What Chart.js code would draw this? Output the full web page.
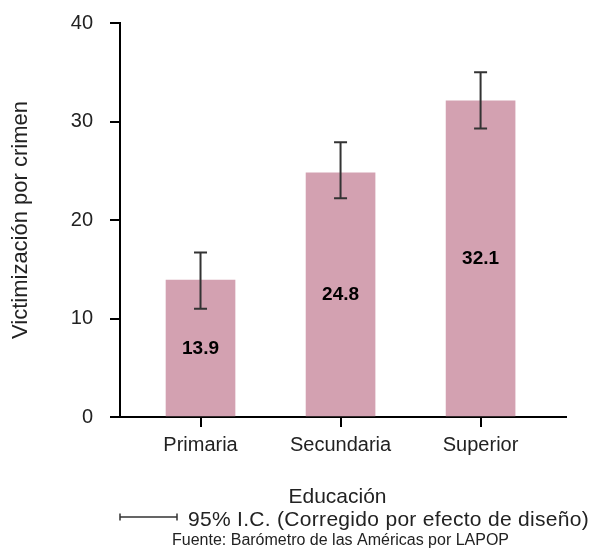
<!DOCTYPE html>
<html>
<head>
<meta charset="utf-8">
<title>Victimización por crimen según educación</title>
<script src="https://cdn.jsdelivr.net/npm/chart.js"></script>
<style>
  body { margin: 0; background: #fff; }
</style>
</head>
<body>
<canvas id="barChart" width="594" height="550"></canvas>
<script>
const categories = ['Primaria', 'Secundaria', 'Superior'];
const values = [13.9, 24.8, 32.1];
const ciLow = [11.0, 22.2, 29.3];
const ciHigh = [16.7, 27.9, 35.0];
const yTicks = [0, 10, 20, 30, 40];

const FONT = '"Liberation Sans", Arial, sans-serif';
const TEXT = '#222';

// error bars, value labels and the notes under the axis
const extras = {
    id: 'extras',
    afterDatasetsDraw(chart) {
        const ctx = chart.ctx;
        const xs = chart.scales.x, ys = chart.scales.y;
        ctx.save();
        ctx.strokeStyle = '#333';
        ctx.lineWidth = 2;
        values.forEach((v, i) => {
            const x = xs.getPixelForValue(i + 1);
            const yl = ys.getPixelForValue(ciLow[i]);
            const yh = ys.getPixelForValue(ciHigh[i]);
            ctx.beginPath();
            ctx.moveTo(x, yl); ctx.lineTo(x, yh);
            ctx.moveTo(x - 6.5, yl); ctx.lineTo(x + 6.5, yl);
            ctx.moveTo(x - 6.5, yh); ctx.lineTo(x + 6.5, yh);
            ctx.stroke();

            ctx.fillStyle = '#000';
            ctx.font = 'bold 19px ' + FONT;
            ctx.textAlign = 'center';
            ctx.textBaseline = 'middle';
            ctx.fillText(v.toFixed(1), x, ys.getPixelForValue(v / 2));
        });

        ctx.fillStyle = TEXT;
        ctx.textBaseline = 'alphabetic';
        ctx.font = '21px ' + FONT;
        ctx.textAlign = 'center';
        ctx.fillText('Educación', 337.5, 503);

        ctx.lineWidth = 1.5;
        ctx.beginPath();
        ctx.moveTo(120, 517); ctx.lineTo(177, 517);
        ctx.moveTo(120, 513.5); ctx.lineTo(120, 520.5);
        ctx.moveTo(177, 513.5); ctx.lineTo(177, 520.5);
        ctx.stroke();

        ctx.textAlign = 'left';
        ctx.font = '21px ' + FONT;
        ctx.letterSpacing = '0.3px';
        ctx.fillText('95% I.C. (Corregido por efecto de diseño)', 188, 526);
        ctx.letterSpacing = '0px';
        ctx.font = '16px ' + FONT;
        ctx.fillText('Fuente: Barómetro de las Américas por LAPOP', 172, 545);
        ctx.restore();
    }
};

const ctx = document.getElementById('barChart').getContext('2d');
new Chart(ctx, {
    type: 'bar',
    data: {
        datasets: [{
            data: categories.map((c, i) => ({ x: i + 1, y: values[i] })),
            backgroundColor: '#d3a1b1',
            barThickness: 69
        }]
    },
    options: {
        responsive: false,
        animation: false,
        layout: { padding: { top: 23, right: 28, left: 0, bottom: 0 } },
        plugins: {
            legend: { display: false },
            tooltip: { enabled: false }
        },
        scales: {
            x: {
                type: 'linear',
                offset: false,
                min: 0.425,
                max: 3.61,
                afterBuildTicks: scale => { scale.ticks = categories.map((c, i) => ({ value: i + 1 })); },
                afterFit: scale => { scale.height = 133; },
                ticks: {
                    callback: v => categories[v - 1],
                    font: { family: FONT, size: 20 },
                    color: TEXT,
                    padding: 6,
                    maxRotation: 0
                },
                grid: { offset: false, drawOnChartArea: false, tickLength: 10, lineWidth: 2, color: '#000' },
                border: { color: '#000', width: 2 }
            },
            y: {
                min: 0,
                max: 40,
                afterBuildTicks: scale => { scale.ticks = yTicks.map(v => ({ value: v })); },
                afterFit: scale => {
                    scale.width = 120;
                    scale.paddingTop = 0;
                    scale.paddingBottom = 0;
                },
                ticks: {
                    font: { family: FONT, size: 20 },
                    color: TEXT,
                    padding: 17
                },
                grid: { drawOnChartArea: false, tickLength: 10, lineWidth: 2, color: '#000' },
                border: { color: '#000', width: 2 },
                title: {
                    display: true,
                    text: 'Victimización por crimen',
                    font: { family: FONT, size: 22 },
                    color: TEXT,
                    padding: { top: 8, bottom: 0 }
                }
            }
        }
    },
    plugins: [extras]
});
</script>
</body>
</html>
